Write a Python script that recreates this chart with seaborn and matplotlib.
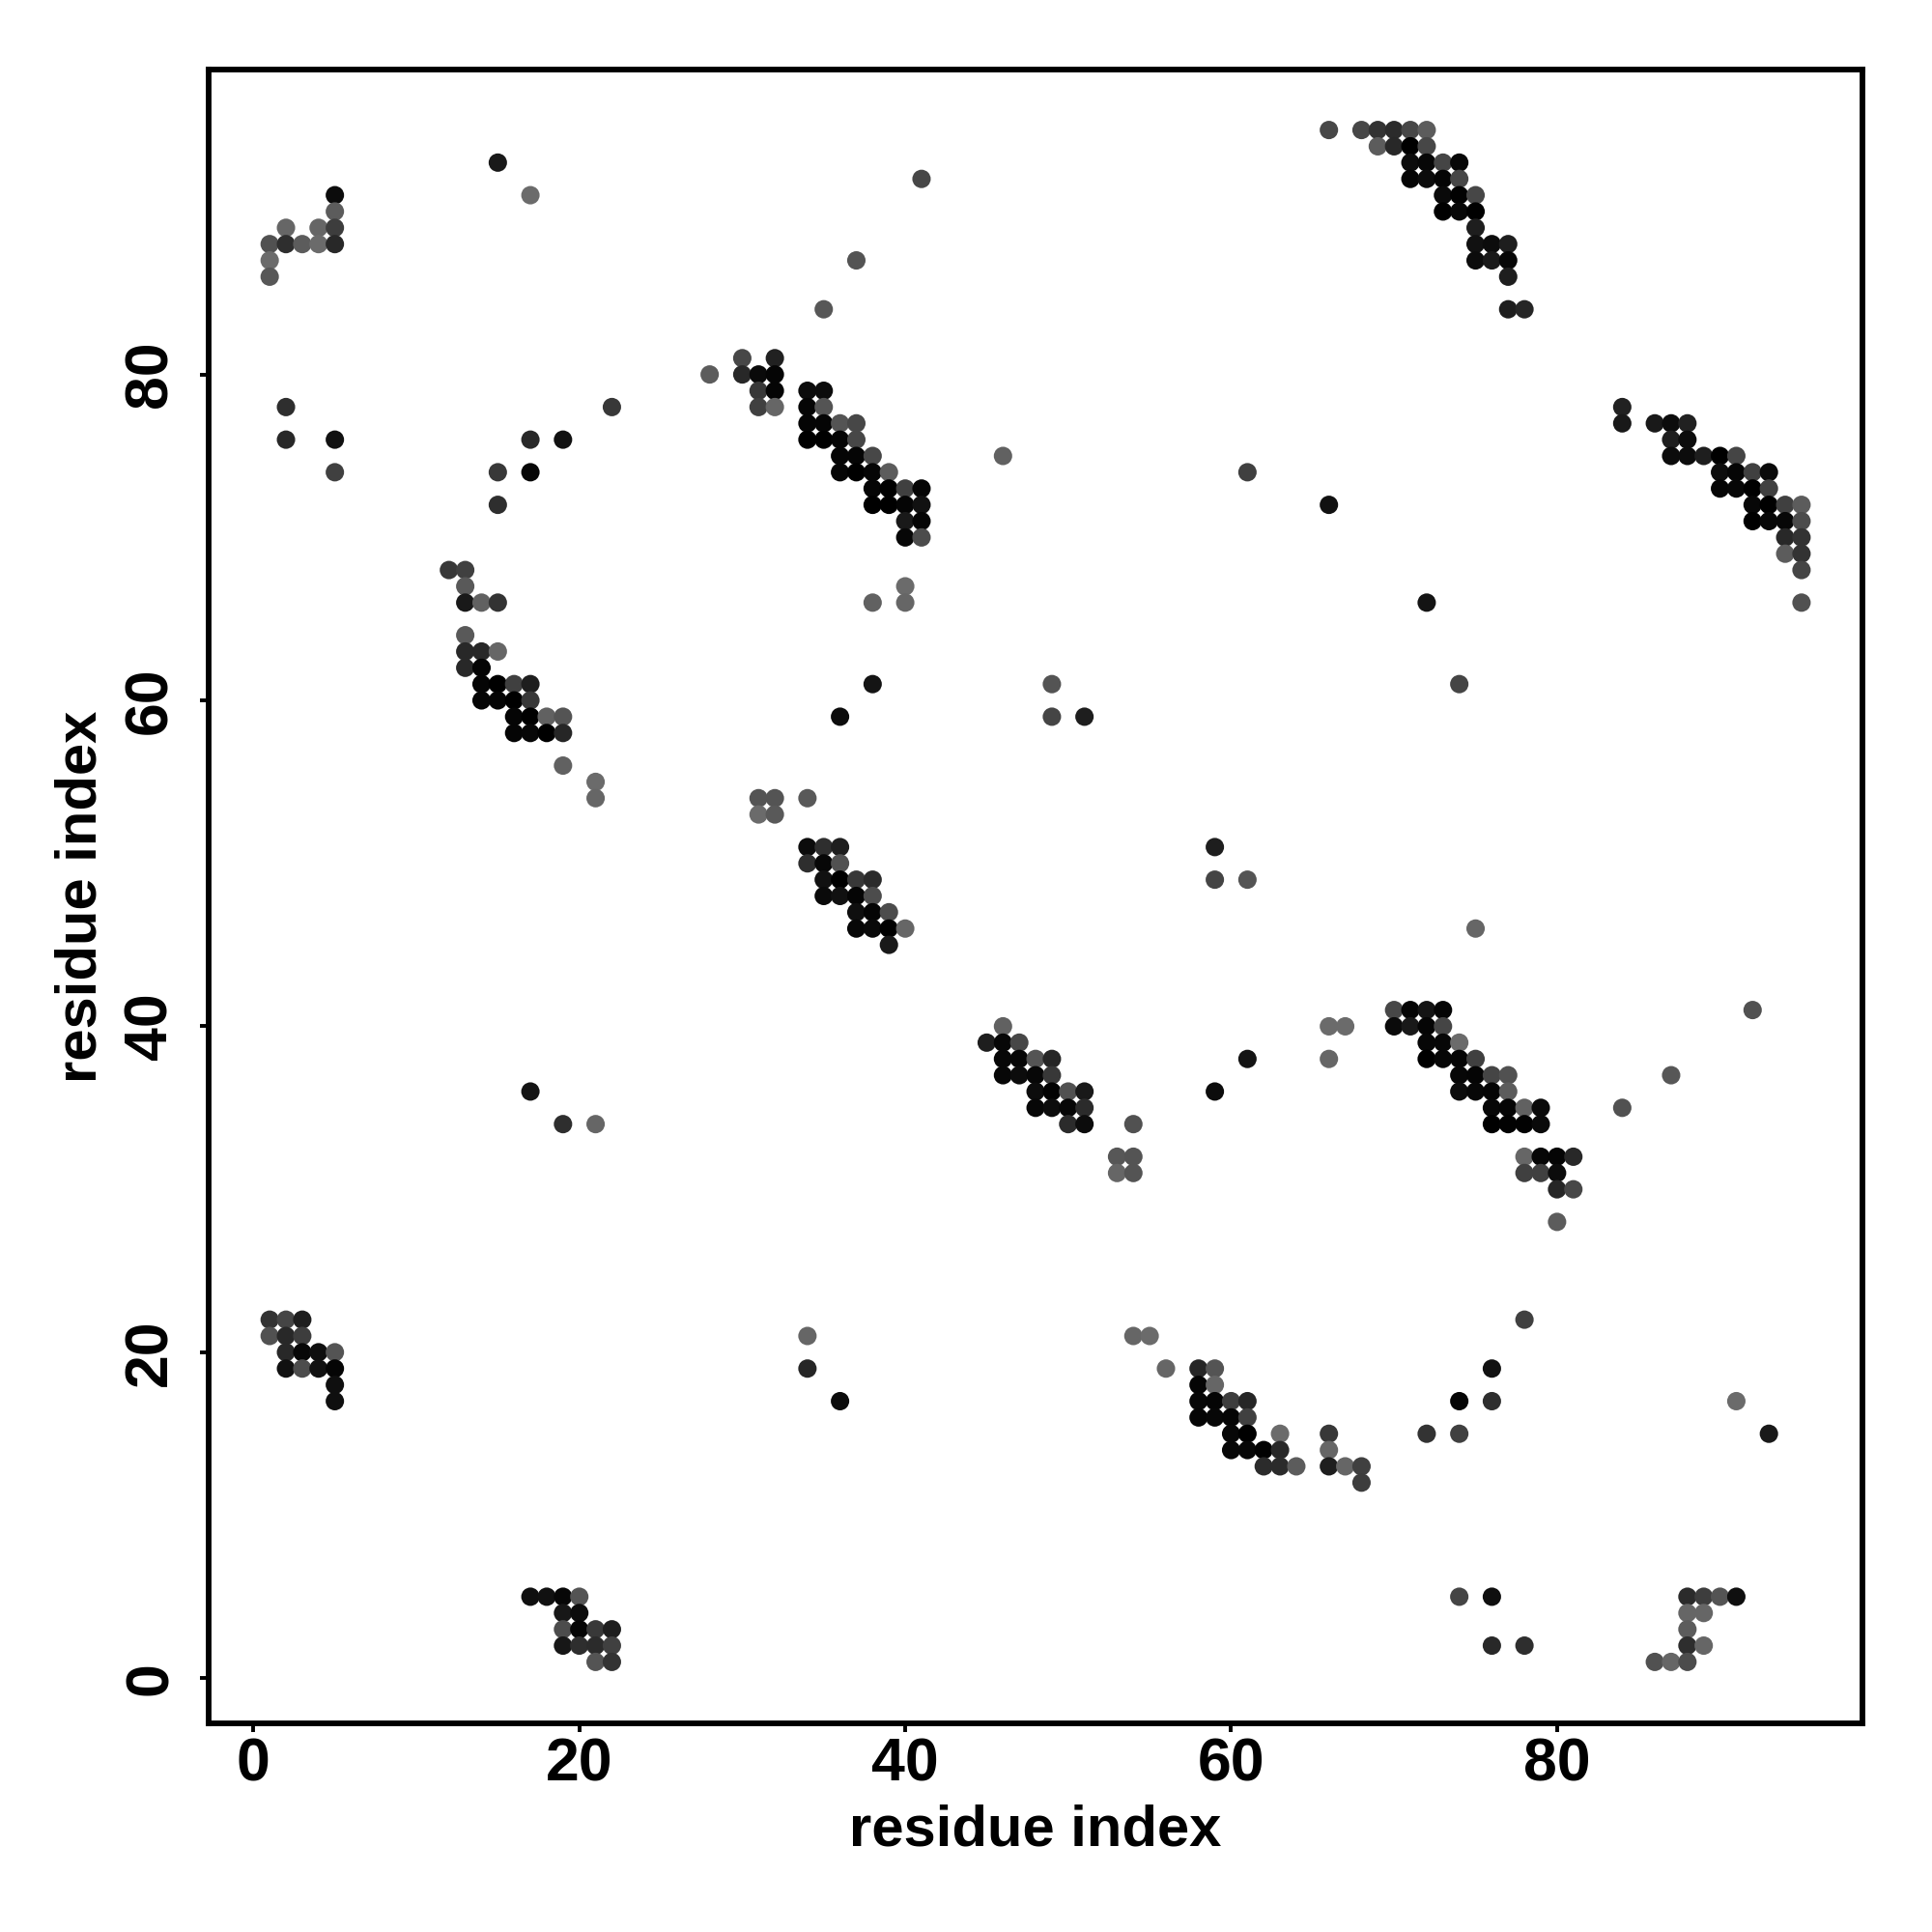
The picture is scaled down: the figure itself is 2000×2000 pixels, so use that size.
import matplotlib
matplotlib.use("Agg")
from matplotlib import pyplot as plt
import pandas as pd
import seaborn as sns

# y value of each row of contacts, with x and grey level of the dots in that row
row_y = [95, 94, 93, 92, 91, 90, 89, 88, 87, 86, 84, 81, 80, 79, 78, 77, 76, 75, 74, 73,
         72, 71, 70, 69, 68, 67, 66, 64, 63, 62, 61, 60, 59, 58, 56, 55, 54, 53, 51, 50,
         49, 48, 47, 46, 45, 41, 40, 39, 38, 37, 36, 35, 34, 32, 31, 30, 28, 22, 21, 20,
         19, 18, 17, 16, 15, 14, 13, 12, 5, 4, 3, 2, 1]

row_x = [
    [66, 68, 69, 70, 71, 72],
    [69, 70, 71, 72],
    [15, 71, 72, 73, 74],
    [41, 71, 72, 73, 74],
    [5, 17, 73, 74, 75],
    [5, 73, 74, 75],
    [2, 4, 5, 75],
    [1, 2, 3, 4, 5, 75, 76, 77],
    [1, 37, 75, 76, 77],
    [1, 77],
    [35, 77, 78],
    [30, 32],
    [28, 30, 31, 32],
    [31, 32, 34, 35],
    [2, 22, 31, 32, 34, 35, 84],
    [34, 35, 36, 37, 84, 86, 87, 88],
    [2, 5, 17, 19, 34, 35, 36, 37, 87, 88],
    [36, 37, 38, 46, 87, 88, 89, 90, 91],
    [5, 15, 17, 36, 37, 38, 39, 61, 90, 91, 92, 93],
    [38, 39, 40, 41, 90, 91, 92, 93],
    [15, 38, 39, 40, 41, 66, 92, 93, 94, 95],
    [40, 41, 92, 93, 94, 95],
    [40, 41, 94, 95],
    [94, 95],
    [12, 13, 95],
    [13, 40],
    [13, 14, 15, 38, 40, 72, 95],
    [13],
    [13, 14, 15],
    [13, 14],
    [14, 15, 16, 17, 38, 49, 74],
    [14, 15, 16, 17],
    [16, 17, 18, 19, 36, 49, 51],
    [16, 17, 18, 19],
    [19],
    [21],
    [21, 31, 32, 34],
    [31, 32],
    [34, 35, 36, 59],
    [34, 35, 36],
    [35, 36, 37, 38, 59, 61],
    [35, 36, 37, 38],
    [37, 38, 39],
    [37, 38, 39, 40, 75],
    [39],
    [70, 71, 72, 73, 92],
    [46, 66, 67, 70, 71, 72, 73],
    [45, 46, 47, 72, 73, 74],
    [46, 47, 48, 49, 61, 66, 72, 73, 74, 75],
    [46, 47, 48, 49, 74, 75, 76, 77, 87],
    [17, 48, 49, 50, 51, 59, 74, 75, 76, 77],
    [48, 49, 50, 51, 76, 77, 78, 79, 84],
    [19, 21, 50, 51, 54, 76, 77, 78, 79],
    [53, 54, 78, 79, 80, 81],
    [53, 54, 78, 79, 80],
    [80, 81],
    [80],
    [1, 2, 3, 78],
    [1, 2, 3, 34, 54, 55],
    [2, 3, 4, 5],
    [2, 3, 4, 5, 34, 56, 58, 59, 76],
    [5, 58, 59],
    [5, 36, 58, 59, 60, 61, 74, 76, 91],
    [58, 59, 60, 61],
    [60, 61, 63, 66, 72, 74, 93],
    [60, 61, 62, 63, 66],
    [62, 63, 64, 66, 67, 68],
    [68],
    [17, 18, 19, 20, 74, 76, 88, 89, 90, 91],
    [19, 20, 88, 89],
    [19, 20, 21, 22, 88],
    [19, 20, 21, 22, 76, 78, 88, 89],
    [21, 22, 86, 87, 88],
]

row_shade = [
    [.28, .28, .20, .17, .28, .36],
    [.36, .16, .00, .28],
    [.10, .05, .03, .27, .03],
    [.28, .02, .05, .02, .28],
    [.05, .42, .04, .01, .28],
    [.36, .00, .03, .00],
    [.40, .40, .24, .12],
    [.32, .18, .36, .42, .16, .07, .05, .12],
    [.42, .33, .05, .10, .03],
    [.34, .12],
    [.34, .12, .15],
    [.28, .13],
    [.36, .16, .04, .02],
    [.22, .02, .05, .05],
    [.18, .22, .25, .40, .02, .33, .13],
    [.02, .02, .33, .28, .10, .10, .05, .13],
    [.16, .07, .16, .07, .00, .00, .02, .28, .12, .05],
    [.02, .02, .28, .38, .05, .05, .12, .00, .27],
    [.25, .22, .03, .02, .00, .02, .36, .25, .05, .02, .25, .04],
    [.02, .00, .25, .02, .02, .03, .00, .25],
    [.18, .00, .00, .02, .07, .07, .03, .00, .25, .36],
    [.10, .02, .00, .03, .03, .30],
    [.03, .30, .16, .20],
    [.36, .20],
    [.22, .25, .27],
    [.35, .42],
    [.10, .38, .20, .38, .40, .08, .32],
    [.35],
    [.16, .16, .40],
    [.16, .02],
    [.02, .00, .25, .12, .08, .33, .27],
    [.02, .02, .00, .22],
    [.02, .00, .38, .33, .05, .27, .12],
    [.02, .03, .00, .15],
    [.38],
    [.42],
    [.40, .33, .33, .35],
    [.42, .35],
    [.05, .18, .12, .12],
    [.18, .03, .32],
    [.07, .00, .22, .17, .27, .33],
    [.04, .07, .02, .30],
    [.06, .02, .30],
    [.03, .04, .00, .40, .40],
    [.10],
    [.28, .02, .08, .02, .32],
    [.38, .42, .42, .04, .10, .02, .27],
    [.12, .03, .28, .03, .03, .42],
    [.03, .03, .33, .15, .08, .40, .00, .03, .02, .25],
    [.03, .05, .03, .22, .03, .02, .27, .32, .34],
    [.08, .05, .01, .32, .10, .05, .05, .03, .02, .36],
    [.03, .05, .03, .17, .03, .02, .38, .04, .32],
    [.18, .40, .17, .05, .32, .00, .01, .01, .04],
    [.34, .33, .40, .03, .02, .16],
    [.40, .33, .25, .25, .05],
    [.15, .28],
    [.36],
    [.20, .27, .12, .25],
    [.32, .16, .24, .40, .40, .42],
    [.16, .03, .06, .33],
    [.07, .30, .07, .02, .15, .40, .15, .33, .07],
    [.06, .02, .40],
    [.06, .05, .03, .02, .24, .15, .02, .18, .42],
    [.02, .03, .02, .25],
    [.03, .00, .42, .22, .20, .25, .10],
    [.03, .03, .01, .16, .40],
    [.17, .17, .36, .12, .40, .25],
    [.24],
    [.06, .07, .03, .33, .27, .06, .17, .24, .33, .06],
    [.09, .05, .40, .40],
    [.30, .02, .22, .12, .36],
    [.09, .18, .17, .25, .16, .18, .18, .40],
    [.33, .20, .32, .40, .30],
]

x_ticks = [0, 20, 40, 60, 80]
y_ticks = [0, 20, 40, 60, 80]

rows = []
for y, xs, shades in zip(row_y, row_x, row_shade):
    for x, shade in zip(xs, shades):
        rows.append({"x": x, "y": y, "shade": shade})
df = pd.DataFrame(rows)

sns.set_theme(style="ticks")
plt.rcParams["font.family"] = ["Liberation Sans", "DejaVu Sans"]

fig = plt.figure(figsize=(10, 10), dpi=200)
ax = fig.add_axes([0.108, 0.108, 0.856, 0.856])
sns.scatterplot(
    data=df, x="x", y="y", hue="shade", palette="gray", hue_norm=(0, 1),
    s=47, linewidth=0, legend=False, ax=ax,
)

ax.set_xlim(-2.745, 98.74)
ax.set_ylim(-2.77, 98.71)
ax.set_xticks(x_ticks)
ax.set_yticks(y_ticks)
ax.tick_params(axis="both", length=3.2, width=1.4, color="black", labelcolor="black", labelsize=22.5)
ax.tick_params(axis="x", pad=1.5)
ax.tick_params(axis="y", pad=7.7)
for lab in ax.get_xticklabels():
    lab.set_fontweight("bold")
for lab in ax.get_yticklabels():
    lab.set_fontweight("bold")
    lab.set_rotation(90)
    lab.set_va("center")
ax.set_xlabel("residue index", fontsize=21.5, fontweight="bold", color="black", labelpad=4)
ax.set_ylabel("residue index", fontsize=21.5, fontweight="bold", color="black", labelpad=5.5)
for side in ax.spines.values():
    side.set_linewidth(2.1)
    side.set_color("black")

plt.savefig("out.png", dpi=200)
